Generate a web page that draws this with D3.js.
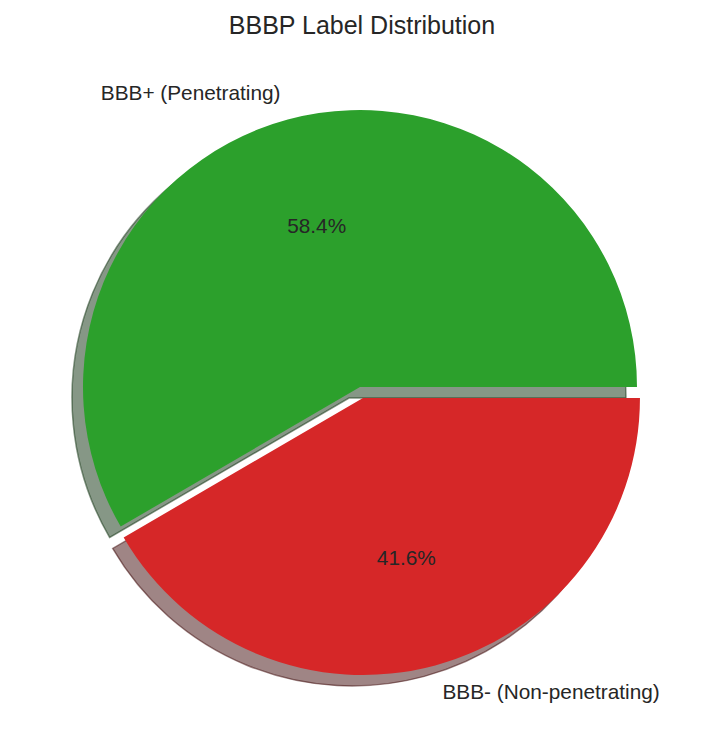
<!DOCTYPE html>
<html>
<head>
<meta charset="utf-8">
<script src="https://cdn.jsdelivr.net/npm/d3@7"></script>
<style>
  html, body { margin: 0; padding: 0; background: #ffffff; }
  svg { display: block; }
  text { font-family: "Liberation Sans", Arial, sans-serif; fill: #262626; }
</style>
</head>
<body>
<svg id="chart" width="723" height="754"></svg>
<script>
// ---- data ----
const categories = ["BBB+ (Penetrating)", "BBB- (Non-penetrating)"];
const values = [58.4, 41.6];
const colors = ["#2ca02c", "#d62728"];
const explode = [0, 0.041];
const title = "BBBP Label Distribution";

// ---- layout ----
const W = 723, H = 754;
const cx = 360, cy = 387, R = 277;
const shadowDx = -11, shadowDy = 11;
const labelFont = 20.8, pctFont = 20.8, titleFont = 25;

const svg = d3.select("#chart");

svg.append("text")
  .attr("x", 362).attr("y", 34)
  .attr("text-anchor", "middle")
  .style("font-size", titleFont + "px")
  .text(title);

// matplotlib: start at 0° (3 o'clock), counterclockwise.
const pie = d3.pie().sort(null)
  .startAngle(Math.PI / 2)
  .endAngle(Math.PI / 2 - 2 * Math.PI)
  .value(d => d);
const arcs = pie(values);
const arc = d3.arc().innerRadius(0).outerRadius(R);

function offset(d, i) {
  const m = (d.startAngle + d.endAngle) / 2;
  const e = explode[i] * R;
  return [Math.sin(m) * e, -Math.cos(m) * e];
}

const shade = c => {
  const r = d3.rgb(c);
  return d3.rgb(r.r * 0.3, r.g * 0.3, r.b * 0.3).toString();
};

const g = svg.append("g").attr("transform", `translate(${cx},${cy})`);

// shadows
g.selectAll("path.shadow").data(arcs).enter().append("path")
  .attr("class", "shadow")
  .attr("transform", (d, i) => {
    const [ox, oy] = offset(d, i);
    return `translate(${ox + shadowDx},${oy + shadowDy})`;
  })
  .attr("d", arc)
  .attr("fill", (d, i) => shade(colors[i]))
  .attr("fill-opacity", 0.5)
  .attr("stroke", (d, i) => shade(colors[i]))
  .attr("stroke-opacity", 0.5)
  .attr("stroke-width", 1.5)
  .attr("stroke-linejoin", "miter");

// wedges
g.selectAll("path.wedge").data(arcs).enter().append("path")
  .attr("class", "wedge")
  .attr("transform", (d, i) => {
    const [ox, oy] = offset(d, i);
    return `translate(${ox},${oy})`;
  })
  .attr("d", arc)
  .attr("fill", (d, i) => colors[i]);

// labels
arcs.forEach((d, i) => {
  const [ox, oy] = offset(d, i);
  const m = (d.startAngle + d.endAngle) / 2;
  const sx = Math.sin(m), sy = -Math.cos(m);
  // category label at 1.1 R
  g.append("text")
    .attr("x", ox + sx * R * 1.1)
    .attr("y", oy + sy * R * 1.1)
    .attr("dy", "0.33em")
    .attr("text-anchor", sx < 0 ? "end" : "start")
    .style("font-size", labelFont + "px")
    .text(categories[i]);
  // percentage at 0.6 R
  g.append("text")
    .attr("x", ox + sx * R * 0.6)
    .attr("y", oy + sy * R * 0.6)
    .attr("dy", "0.33em")
    .attr("text-anchor", "middle")
    .style("font-size", pctFont + "px")
    .text(values[i].toFixed(1) + "%");
});
</script>
</body>
</html>
